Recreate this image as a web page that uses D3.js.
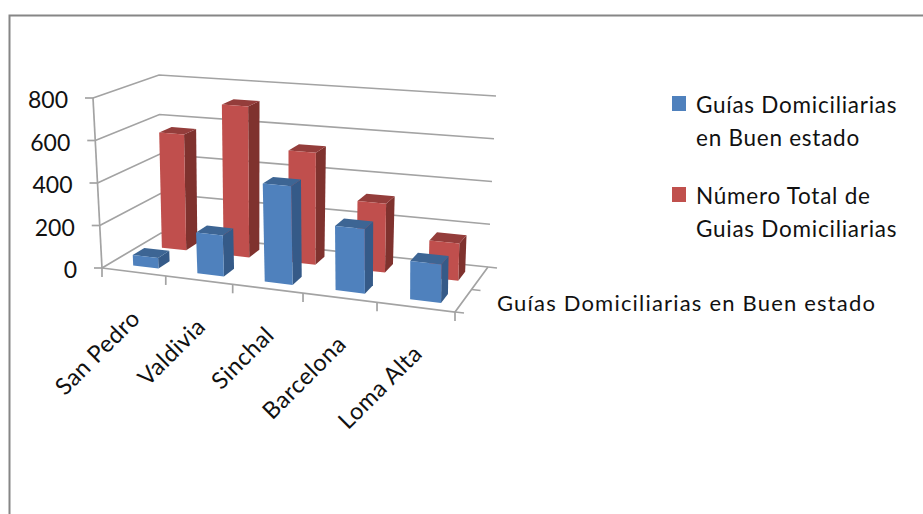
<!DOCTYPE html>
<html>
<head>
<meta charset="utf-8">
<script src="https://cdn.jsdelivr.net/npm/d3@7"></script>
<style>
  html, body { margin: 0; padding: 0; background: #fff; overflow: hidden; }
  svg text { font-family: Lato, "Open Sans", sans-serif; fill: #111; }
</style>
</head>
<body>
<div id="chart"></div>
<script>
// chart data
const categories = ["San Pedro", "Valdivia", "Sinchal", "Barcelona", "Loma Alta"]
const seriesNames = ["Guías Domiciliarias en Buen estado", "Número Total de Guias Domiciliarias"]
const buenEstado = [50, 190, 450, 290, 170]
const total = [565, 725, 530, 320, 170]
const yTicks = [0, 200, 400, 600, 800]
const legendLines = [["Guías Domiciliarias", "en Buen estado"], ["Número Total de", "Guias Domiciliarias"]]
const seriesAxisTitle = "Guías Domiciliarias en Buen estado"

const width = 923, height = 514

const svg = d3.select("#chart").append("svg")
    .attr("width", width)
    .attr("height", height)

// chart frame, right and bottom sides fall outside the picture
svg.append("path")
    .attr("d", "M9.5,514V15.5H923")
    .attr("fill", "none")
    .attr("stroke", "#868686")
    .attr("stroke-width", 2)

// corners of the 3d box as seen on the picture
const floorFL = [102, 268], floorFR = [455, 312], floorBR = [488, 267], floorBL = [161, 233]
const riseFL = [-9, -170], riseFR = [1, -184], riseBR = [8, -171], riseBL = [-2, -158]

function bilerp(a, b, c, d, u, v) {
    // a front left, b front right, c back right, d back left
    return [0, 1].map(i => (1 - v) * ((1 - u) * a[i] + u * b[i]) + v * ((1 - u) * d[i] + u * c[i]))
}

// the front of the box is closer so the categories get wider to the right
function warp(u) {
    return u / (1 + 0.134 * (1 - u))
}

// scales, all of them return 0..1 inside the box
const x = d3.scaleBand().domain(categories).range([0, 1]).paddingInner(0.6).paddingOuter(0.3).align(0.6)
const z = d3.scaleBand().domain(seriesNames).range([0, 1]).paddingInner(0.6).paddingOuter(0.3)
const y = d3.scaleLinear().domain([0, 800]).range([0, 1])

function project(u, v, h) {
    const w = warp(u)
    const f = bilerp(floorFL, floorFR, floorBR, floorBL, w, v)
    const r = bilerp(riseFL, riseFR, riseBR, riseBL, w, v)
    return [f[0] + r[0] * h, f[1] + r[1] * h]
}

const line = d3.line()
const marks = svg.append("g").attr("filter", "url(#soft)")
svg.append("defs").append("filter").attr("id", "soft")
  .append("feGaussianBlur").attr("stdDeviation", 0.7)

const gridColor = "#a3a3a3"
function stroke(points, w) {
    marks.append("path")
        .attr("d", line(points))
        .attr("fill", "none")
        .attr("stroke", gridColor)
        .attr("stroke-width", w || 1.7)
}

// gridlines on the left and back walls
yTicks.forEach(t => {
    const h = y(t)
    stroke([project(0, 0, h), project(0, 1, h), project(1, 1, h)])
    const p = project(0, 0, h)
    stroke([[p[0] - 8, p[1]], p])
})
// axis lines
stroke([project(0, 0, 0), project(0, 0, 1)])
stroke([project(0, 0, 0), project(1, 0, 0), project(1, 1, 0)])

// tick marks, category boundaries on the front and series on the right
d3.range(categories.length + 1).forEach(i => {
    const p = project(i / categories.length, 0, 0)
    stroke([p, [p[0], p[1] + 9]])
})
d3.range(seriesNames.length + 1).forEach(i => {
    const p = project(1, i / seriesNames.length, 0)
    stroke([p, [p[0] + 9, p[1] + 1]])
})

// bars, back row first
function drawBars(values, name, colors) {
    values.forEach((val, i) => {
        const u0 = x(categories[i]), u1 = u0 + x.bandwidth()
        const v0 = z(name), v1 = v0 + z.bandwidth()
        const h = y(val)
        const face = (pts, fill) => marks.append("path")
            .attr("d", line(pts) + "Z")
            .attr("fill", fill)
        face([project(u1, v0, 0), project(u1, v1, 0), project(u1, v1, h), project(u1, v0, h)], colors.side)
        face([project(u0, v0, h), project(u1, v0, h), project(u1, v1, h), project(u0, v1, h)], colors.top)
        face([project(u0, v0, 0), project(u1, v0, 0), project(u1, v0, h), project(u0, v0, h)], colors.front)
    })
}
const red = { front: "#c0504d", side: "#7f302e", top: "#943c3a" }
const blue = { front: "#4f81bd", side: "#345a88", top: "#3c6594" }
drawBars(total, seriesNames[1], red)
drawBars(buenEstado, seriesNames[0], blue)

// y labels follow the slanted axis
yTicks.forEach(t => {
    const p = project(0, 0, y(t))
    svg.append("text")
        .attr("x", p[0] - 25)
        .attr("y", p[1] + 10)
        .attr("text-anchor", "end")
        .attr("font-size", 23)
        .text(t)
})

// category labels
categories.forEach(c => {
    const p = project((categories.indexOf(c) + 0.5) / categories.length, 0, 0)
    svg.append("text")
        .attr("transform", "translate(" + (p[0] + 8) + "," + (p[1] + 48) + ") rotate(-45)")
        .attr("text-anchor", "end")
        .attr("font-size", 23.5)
        .attr("letter-spacing", 0.5)
        .text(c)
})

// series axis title
svg.append("text")
    .attr("x", 497)
    .attr("y", 311)
    .attr("font-size", 22)
    .attr("textLength", 378)
    .text(seriesAxisTitle)

// legend
const legendColors = [blue.front, red.front]
const legendY = d3.scalePoint().domain(seriesNames).range([96, 187])
seriesNames.forEach((s, i) => {
    svg.append("rect")
        .attr("x", 672)
        .attr("y", legendY(s))
        .attr("width", 14)
        .attr("height", 15)
        .attr("fill", legendColors[i])
    legendLines[i].forEach((l, j) => {
        svg.append("text")
            .attr("x", 696)
            .attr("y", legendY(s) + 17 + j * 33)
            .attr("font-size", 22.5)
            .attr("letter-spacing", 0.75)
            .text(l)
    })
})
</script>
</body>
</html>
